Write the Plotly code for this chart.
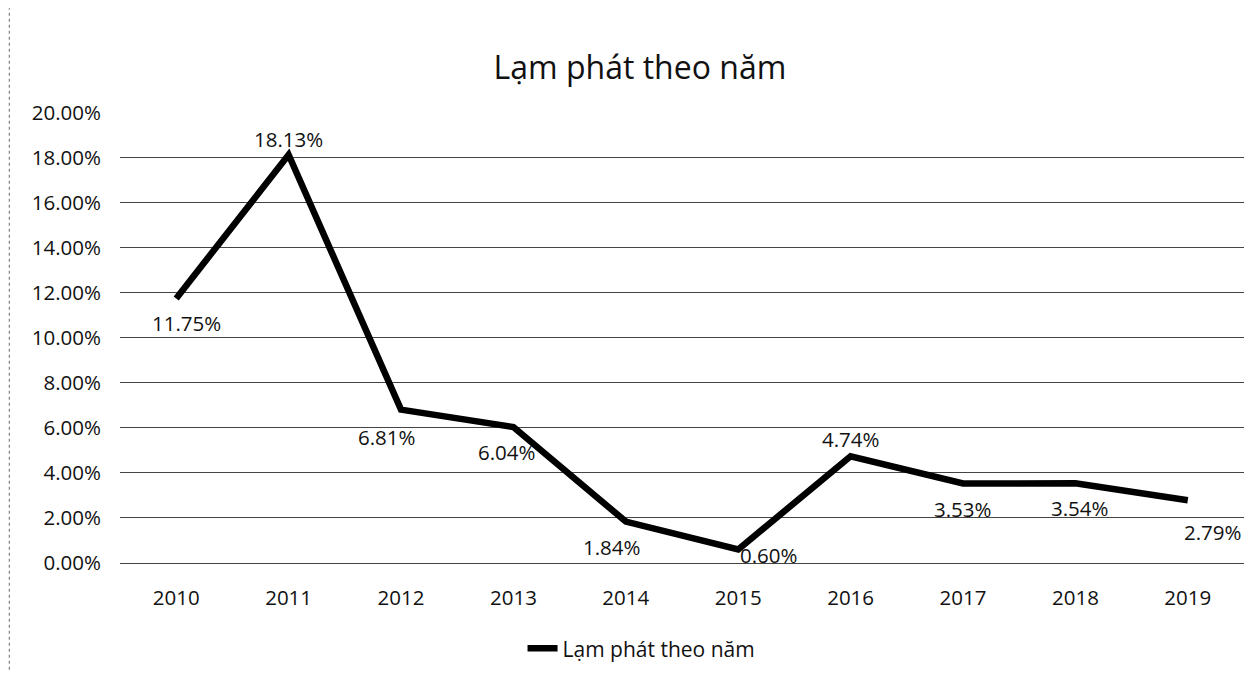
import plotly.graph_objects as go

years = ["2010", "2011", "2012", "2013", "2014", "2015", "2016", "2017", "2018", "2019"]
inflation = [11.75, 18.13, 6.81, 6.04, 1.84, 0.60, 4.74, 3.53, 3.54, 2.79]
# label offsets in pixels (x right, y up) relative to each point
label_dx = [10, 0, -14, -6, -14, 31, 0, 0, 5, 25]
label_dy = [-25, 16, -27, -25, -25, -6, 17, -25, -25, -32]
series_name = "Lạm phát theo năm"
title_text = "Lạm phát theo năm"

FONT = "Open Sans"
fig = go.Figure()
fig.add_trace(go.Scatter(
    x=years, y=inflation, mode="lines", name=series_name,
    line=dict(color="black", width=6.5),
))
for i, (v, dx, dy) in enumerate(zip(inflation, label_dx, label_dy)):
    # category axis: numeric x is the category index of years[i]
    fig.add_annotation(x=i, y=v, text=f"{v:.2f}%", showarrow=False,
                       xshift=dx, yshift=dy, xanchor="center", yanchor="middle",
                       font=dict(size=20.5, color="#111111", family=FONT))

fig.update_layout(
    width=1244, height=664,
    paper_bgcolor="white", plot_bgcolor="white",
    font=dict(family=FONT, color="#111111"),
    title=dict(text=title_text, x=0.508, xanchor="center", y=1 - 60 / 664, yanchor="middle",
               font=dict(size=32, color="#111111", family=FONT)),
    margin=dict(l=112, r=8, t=104, b=109, autoexpand=False),
    showlegend=True,
    legend=dict(orientation="h", x=0.464, xanchor="center", y=-0.19, yanchor="middle",
                font=dict(size=21, color="#111111")),
    xaxis=dict(type="category", range=[-0.5, 9.5], showgrid=False, showline=False,
               automargin=False,
               ticks="", ticklabelstandoff=20, tickfont=dict(size=20.5, color="#111111")),
    yaxis=dict(range=[0, 20.03], dtick=2, ticksuffix="%", tickformat=".2f",
               automargin=False,
               showgrid=True, gridcolor="#444444", gridwidth=1,
               zeroline=True, zerolinecolor="#444444", zerolinewidth=1,
               showline=False, ticks="", ticklabelstandoff=18,
               tickfont=dict(size=20.5, color="#111111")),
)
fig.add_shape(type="line", xref="paper", yref="paper", x0=-0.0985, x1=-0.0985, y0=-0.25, y1=1.23,
              line=dict(color="#666666", width=1, dash="dot"))
fig.write_html("out.html")
